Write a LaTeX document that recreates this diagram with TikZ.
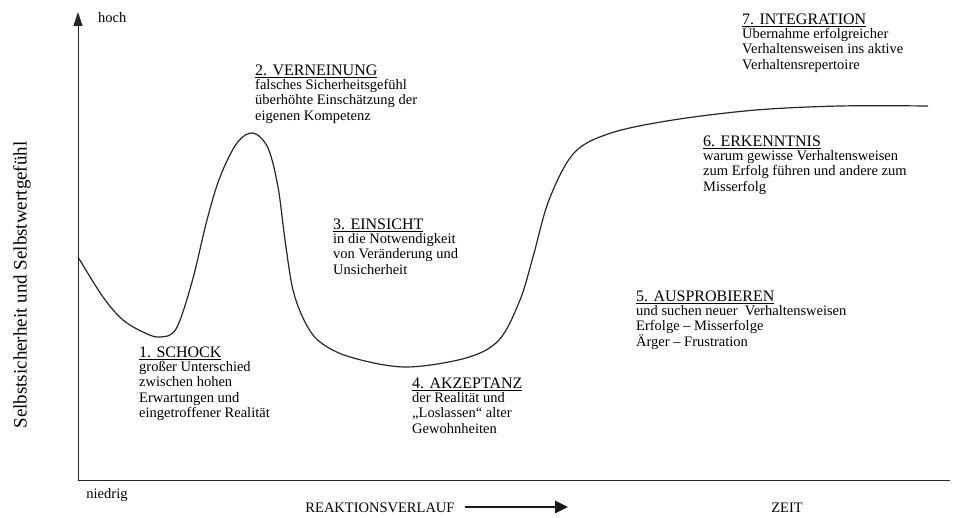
\documentclass[tikz,border=0pt]{standalone}
\usepackage{fontspec}
\setmainfont{Liberation Serif}
\usetikzlibrary{arrows.meta}
\begin{document}
\begin{tikzpicture}[x=1pt,y=-1pt,
  blk/.style={anchor=north west,inner sep=0pt,align=left,font=\fontsize{14.5}{15.5}\selectfont},
  lbl/.style={inner sep=0pt,font=\fontsize{14.5}{15.5}\selectfont},
  axis/.style={line width=0.9pt,draw=black!85},
  curve/.style={line width=1.2pt,draw=black!85},
  bigarrow/.style={line width=2.6pt,draw=black!90,-{Triangle[length=13pt,width=12pt]}}]
\newcommand{\ttl}[1]{{\fontsize{16}{16}\selectfont\underline{#1}}\\[-1.5pt]}
\useasboundingbox (0,0) rectangle (955,518);
% axes
\coordinate (O) at (78,480);
\coordinate (ytop) at (78,12);
\coordinate (xend) at (950,480);
\draw[axis,-{Triangle[length=14pt,width=9pt]}] (O) -- (ytop);
\draw[axis] (O) -- (xend);
% curve
\draw[curve] plot[smooth,tension=0.55] coordinates {
 (78,257) (103,297) (123,320) (145,333) (160,337) (176,329) (192,282) (207,220)
 (220,177) (237,143) (253,133) (268,148) (278,187) (285,240) (293,290) (305,322)
 (320,342) (350,357) (405,367) (466,358) (499,340) (520,300) (533,257) (549,200)
 (574,153) (611,133) (673,120) (756,110) (840,106) (928,106)};
% axis labels
\node[lbl,anchor=west] (hoch) at (98,18) {hoch};
\node[lbl] (niedrig) at (107,495) {niedrig};
\node[lbl] (rv) at (380,508) {REAKTIONSVERLAUF};
\node[lbl] (zeit) at (787,508) {ZEIT};
\coordinate (a1) at (465,507);
\coordinate (a2) at (568,507);
\draw[bigarrow] (a1) -- (a2);
\node[rotate=90,inner sep=0pt,font=\fontsize{19}{19}\selectfont] (ylab) at (22,285) {Selbstsicherheit und Selbstwertgefühl};
% phases
\node[blk] (p1) at (139,346.5) {\ttl{1. SCHOCK}großer Unterschied\\zwischen hohen\\Erwartungen und\\eingetroffener Realität};
\node[blk] (p2) at (255,64.5) {\ttl{2. VERNEINUNG}falsches Sicherheitsgefühl\\überhöhte Einschätzung der\\eigenen Kompetenz};
\node[blk] (p3) at (333,218.5) {\ttl{3. EINSICHT}in die Notwendigkeit\\von Veränderung und\\Unsicherheit};
\node[blk] (p4) at (412,377.5) {\ttl{4. AKZEPTANZ}der Realität und\\„Loslassen“ alter\\Gewohnheiten};
\node[blk] (p5) at (636,290.5) {\ttl{5. AUSPROBIEREN}und suchen neuer\ \ Verhaltensweisen\\Erfolge – Misserfolge\\Ärger – Frustration};
\node[blk] (p6) at (703,135.5) {\ttl{6. ERKENNTNIS}warum gewisse Verhaltensweisen\\zum Erfolg führen und andere zum\\Misserfolg};
\node[blk] (p7) at (742,13.5) {\ttl{7. INTEGRATION}Übernahme erfolgreicher\\Verhaltensweisen ins aktive\\Verhaltensrepertoire};
\end{tikzpicture}
\end{document}
